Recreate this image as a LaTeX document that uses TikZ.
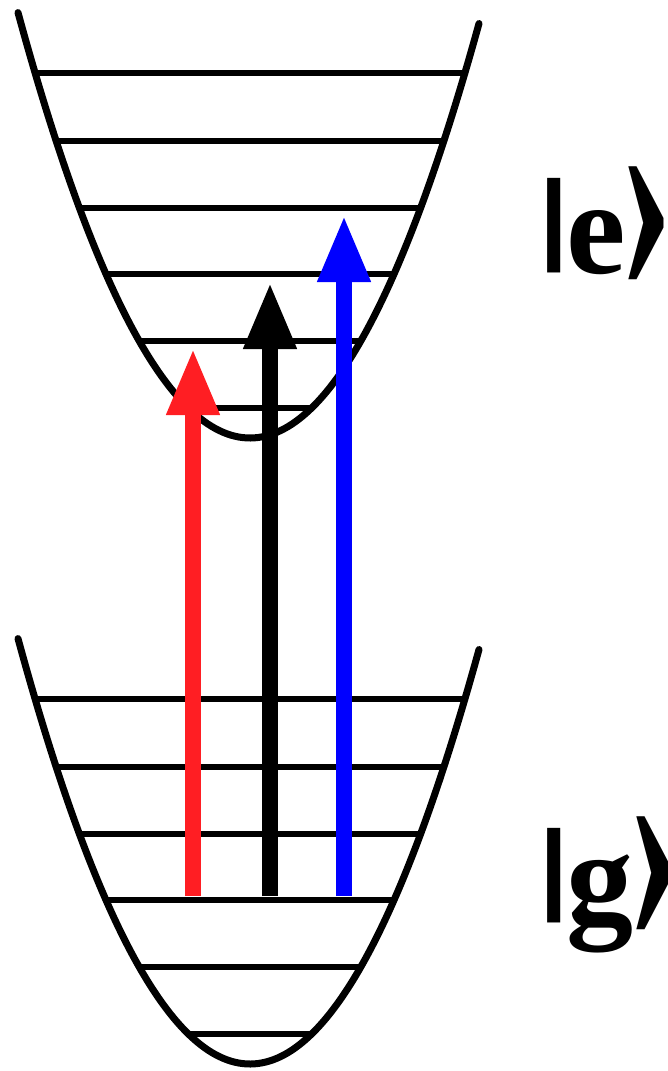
\documentclass[tikz,border=0pt]{standalone}
\usepackage{fontspec}
\setmainfont{Liberation Serif}
\usetikzlibrary{arrows.meta}
\definecolor{myred}{RGB}{255,30,35}
\definecolor{myblue}{RGB}{0,0,255}
\tikzset{
  well/.style={line width=7pt, line cap=round},
  level/.style={line width=5.5pt},
  transition/.style={line width=16pt, -{Triangle[length=67pt,width=49pt]}},
  ket/.style={font=\fontsize{134}{134}\selectfont\bfseries, inner sep=0pt, anchor=base west},
}
\newcommand{\kbar}{\scalebox{1.4}[0.776]{\raisebox{\depth}{|}}\kern-8pt}
\newcommand{\kend}{\kern-7pt\raisebox{-17pt}{\scalebox{1.25}[2.22]{›}}}
\begin{document}
\begin{tikzpicture}[x=1pt,y=-1pt]
\useasboundingbox (0,0) rectangle (668,1071);
\foreach \dy in {0,626} {
  \begin{scope}[yshift=-\dy pt]
    \draw[well] plot[domain=18:479, samples=120, smooth] (\x, {438-0.0079*(\x-250)*(\x-250)});
    \foreach \yy/\dd in {73/214.9, 141/193.9, 208/170.6, 274/144.1, 341/110.8, 408/61.6} {
      \draw[level] (250-\dd, \yy) -- (250+\dd, \yy);
    }
  \end{scope}
}
\node[ket] (e) at (533,273) {\kbar e\kend};
\node[ket] (g) at (533,923) {\kbar g\kend};
\coordinate (r0) at (193,896); \coordinate (r1) at (193,348);
\coordinate (k0) at (270,896); \coordinate (k1) at (270,282);
\coordinate (b0) at (344,896); \coordinate (b1) at (344,215);
\draw[transition, myred] (r0) -- (r1);
\draw[transition, black] (k0) -- (k1);
\draw[transition, myblue] (b0) -- (b1);
\end{tikzpicture}
\end{document}
